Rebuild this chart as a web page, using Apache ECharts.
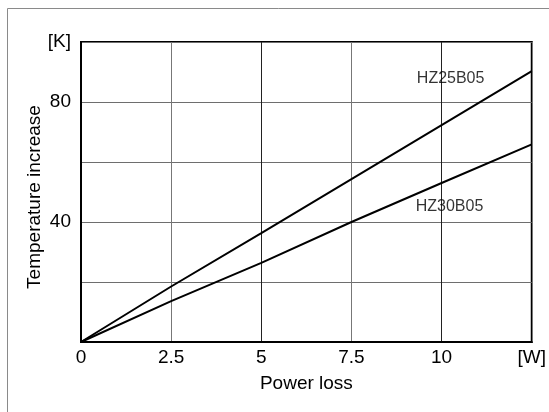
<!DOCTYPE html>
<html>
<head>
<meta charset="utf-8">
<script src="https://cdn.jsdelivr.net/npm/echarts@6/dist/echarts.min.js"></script>
<style>
html,body{margin:0;padding:0;background:#fff;}
#c{width:549px;height:412px;}
</style>
</head>
<body>
<div id="c"></div>
<script>
const powerLoss = [0, 2.5, 5, 7.5, 10, 12.5];
const hz25b05 = [0, 18.5, 36.3, 54.3, 72.3, 90.3];
const hz30b05 = [0, 13.6, 26.4, 40.0, 53.0, 65.9];
const seriesNames = ['HZ25B05', 'HZ30B05'];
const labelPositions = [[10.25, 87.7], [10.22, 45.3]];

const chart = echarts.init(document.getElementById('c'), null, {renderer: 'canvas'});
const font = 'Liberation Sans, Arial, sans-serif';

function pairs(xs, ys) { return xs.map((x, i) => [x, ys[i]]); }

chart.setOption({
  animation: false,
  backgroundColor: '#fff',
  graphic: [{
    type: 'rect',
    shape: {x: 7.5, y: 8.5, width: 600, height: 500},
    style: {fill: 'none', stroke: '#8a8a8a', lineWidth: 1},
    z: -1
  }],
  grid: {left: 81, right: 15, top: 42, bottom: 70, show: true, borderColor: '#000', borderWidth: 2, backgroundColor: 'transparent'},
  xAxis: {
    type: 'value', min: 0, max: 12.5, interval: 2.5,
    name: 'Power loss', nameLocation: 'middle', nameGap: 32, nameMoveOverlap: false,
    nameTextStyle: {fontFamily: font, fontSize: 19, color: '#000'},
    axisLine: {show: true, lineStyle: {color: '#000', width: 2}},
    axisTick: {show: false},
    axisLabel: {
      fontFamily: font, fontSize: 19, color: '#000', margin: 6,
      formatter: v => v === 12.5 ? '[W]' : String(v)
    },
    splitLine: {show: true, lineStyle: {color: ['#222', '#777'], width: 1}}
  },
  yAxis: {
    type: 'value', min: 0, max: 100, interval: 20,
    name: 'Temperature increase', nameLocation: 'middle', nameGap: 37, nameMoveOverlap: false,
    nameTextStyle: {fontFamily: font, fontSize: 19, color: '#000', padding: [0, 10, 0, 0]},
    axisLine: {show: true, lineStyle: {color: '#000', width: 2}},
    axisTick: {show: false},
    axisLabel: {
      fontFamily: font, fontSize: 19, color: '#000', margin: 10,
      formatter: v => v === 100 ? '[K]' : ((v === 40 || v === 80) ? String(v) : '')
    },
    splitLine: {show: true, lineStyle: {color: '#6e6e6e', width: 1}}
  },
  series: [
    {
      name: seriesNames[0], type: 'line', data: pairs(powerLoss, hz25b05),
      showSymbol: false, lineStyle: {color: '#000', width: 2}, z: 5
    },
    {
      name: seriesNames[1], type: 'line', data: pairs(powerLoss, hz30b05),
      showSymbol: false, lineStyle: {color: '#000', width: 2}, z: 5
    },
    {
      type: 'scatter', symbolSize: 0, silent: true,
      data: labelPositions.map((p, i) => ({value: p, name: seriesNames[i]})),
      label: {
        show: true, position: 'inside', formatter: '{b}',
        fontFamily: font, fontSize: 16, color: '#000'
      }
    }
  ]
});
</script>
</body>
</html>
